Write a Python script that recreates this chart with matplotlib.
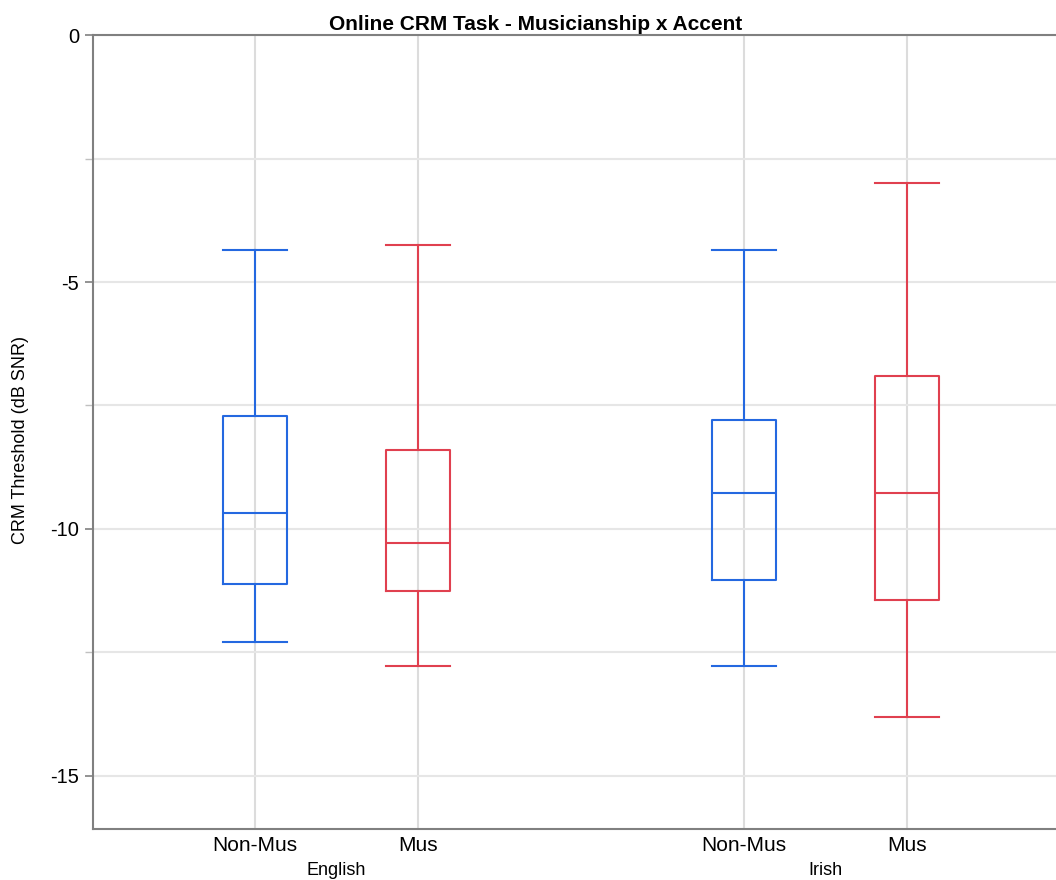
import matplotlib
matplotlib.use("Agg")
import matplotlib.pyplot as plt
from matplotlib.ticker import MultipleLocator

plt.rcParams['font.family'] = ['Liberation Sans', 'DejaVu Sans']

# Box summary values (dB SNR)
accents = ['English', 'Irish']
groups = ['Non-Mus', 'Mus', 'Non-Mus', 'Mus']
whislo = [-12.29, -12.78, -12.78, -13.81]
q1 = [-11.12, -11.26, -11.03, -11.44]
med = [-9.68, -10.28, -9.27, -9.27]
q3 = [-7.71, -8.40, -7.79, -6.90]
whishi = [-4.36, -4.26, -4.36, -3.00]
colors = ['#2468e0', '#e0404f', '#2468e0', '#e0404f']
positions = [0, 1, 3, 4]

stats = []
for i in range(len(groups)):
    stats.append(dict(whislo=whislo[i], q1=q1[i], med=med[i], q3=q3[i],
                      whishi=whishi[i], fliers=[]))

fig = plt.figure(figsize=(10.56, 8.8), dpi=100)
ax = fig.add_axes([0.0881, 0.058, 0.9119, 0.902])

for i, st in enumerate(stats):
    c = colors[i]
    ax.bxp([st], positions=[positions[i]], widths=0.39, showfliers=False,
           boxprops=dict(color=c, linewidth=1.5),
           medianprops=dict(color=c, linewidth=1.5),
           whiskerprops=dict(color=c, linewidth=1.5),
           capprops=dict(color=c, linewidth=1.5),
           capwidths=0.39, manage_ticks=False, zorder=3)

ax.set_xlim(-0.994, 4.914)
ax.set_ylim(-16.08, 0)
ax.yaxis.set_major_locator(MultipleLocator(5))
ax.yaxis.set_minor_locator(MultipleLocator(2.5))
ax.set_yticks([0, -5, -10, -15])
ax.set_yticklabels(['0', '-5', '-10', '-15'])
ax.set_xticks(positions)
ax.set_xticklabels(groups)

ax.grid(True, axis='y', which='both', color='#e6e6e6', linewidth=1.5, zorder=0)
ax.grid(True, axis='x', which='major', color='#dcdcdc', linewidth=1.5, zorder=0)
ax.set_axisbelow(True)

for s in ['left', 'top', 'bottom']:
    ax.spines[s].set_color('#808080')
    ax.spines[s].set_linewidth(1.5)
ax.spines['right'].set_visible(False)

ax.tick_params(axis='y', which='major', length=6, width=1.2, color='#808080',
               labelsize=14.5, pad=4)
ax.tick_params(axis='y', which='minor', length=6, width=1.0, color='#c0c0c0')
ax.tick_params(axis='x', length=0, labelsize=15, pad=5)

ax.set_ylabel('CRM Threshold (dB SNR)', fontsize=13)
ax.yaxis.set_label_coords(-0.066, 0.49)
ax.set_title('Online CRM Task - Musicianship x Accent', fontsize=15,
             fontweight='bold', pad=4, x=0.46)

# accent group labels below the tick labels
for j, name in enumerate(accents):
    xc = (positions[2 * j] + positions[2 * j + 1]) / 2
    ax.text(xc, -0.052, name, transform=ax.get_xaxis_transform(),
            ha='center', va='center', fontsize=13)

fig.savefig('out.png', dpi=100)
